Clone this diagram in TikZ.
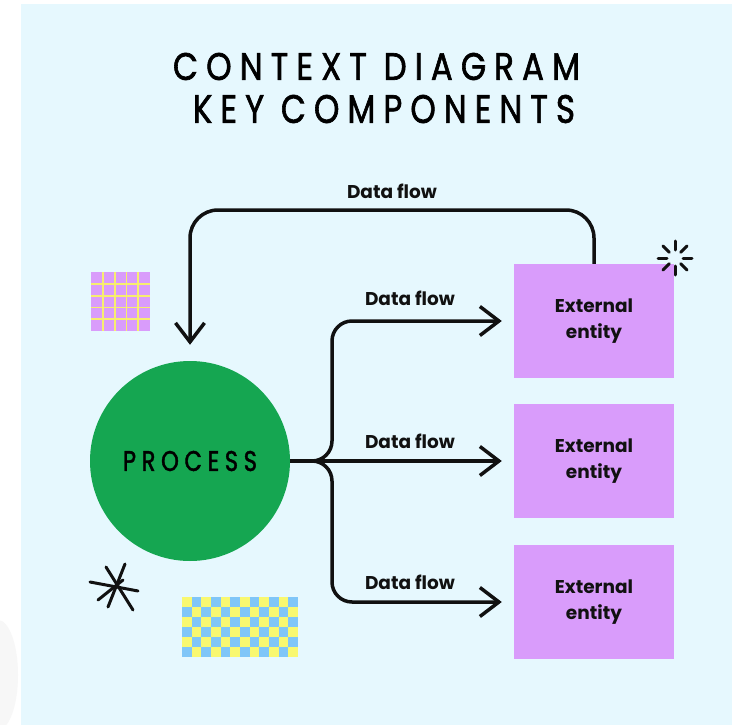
\documentclass[tikz,border=0pt]{standalone}
\usepackage{fontspec}
\usepackage{graphicx}
\usetikzlibrary{arrows.meta,calc}
\setmainfont{Poppins}
\newfontfamily\titlef{Poppins}[LetterSpace=25, FakeBold=1.8]
\definecolor{bgc}{HTML}{E6F8FE}
\definecolor{purp}{HTML}{D99CFB}
\definecolor{procg}{HTML}{15A651}
\definecolor{gyel}{HTML}{F7EE6E}
\definecolor{cyel}{HTML}{F9F870}
\definecolor{cblu}{HTML}{80C6F8}
\definecolor{ink}{HTML}{111111}
\tikzset{
  ebox/.style={fill=purp, minimum width=160pt, minimum height=114pt, inner sep=0pt,
    align=center, font=\bfseries\fontsize{18.5}{26}\selectfont, text=ink},
  lab/.style={font=\bfseries\fontsize{18.5}{22}\selectfont, text=ink, inner sep=0pt},
  flow/.style={draw=ink, line width=3.5pt, -{Straight Barb[length=19pt,width=29pt]}},
  deco/.style={draw=ink, line width=3pt, line cap=round}
}
\begin{document}
\begin{tikzpicture}[x=1pt,y=-1pt]
\useasboundingbox (0,0) rectangle (732,725);
\fill[white] (0,0) rectangle (732,725);
\fill[gray!6] (-2,675) ellipse (20 and 55);
\fill[bgc] (21,4) rectangle (732,725);

% title
\node[inner sep=0pt] (t1) at (376.5,66.5) {\resizebox{407pt}{27pt}{\titlef CONTEXT DIAGRAM}};
\node[inner sep=0pt] (t2) at (384,109) {\resizebox{382pt}{28pt}{\titlef KEY COMPONENTS}};

% grid decoration
\fill[purp] (91,272) rectangle (150,331);
\foreach \k in {1,...,4}{
  \fill[gyel] ({91+11.8*\k-0.9},272) rectangle ({91+11.8*\k+0.9},331);
  \fill[gyel] (91,{272+11.8*\k-0.9}) rectangle (150,{272+11.8*\k+0.9});
}

% checkerboard
\foreach \i in {0,...,11}{
  \foreach \j in {0,...,5}{
    \pgfmathtruncatemacro{\pr}{mod(\i+\j,2)}
    \ifnum\pr=0
      \fill[cyel] ({182+9.67*\i},{597+10*\j}) rectangle ({182+9.67*(\i+1)},{597+10*(\j+1)});
    \else
      \fill[cblu] ({182+9.67*\i},{597+10*\j}) rectangle ({182+9.67*(\i+1)},{597+10*(\j+1)});
    \fi
  }
}

% asterisk
\draw[deco] (106,567) -- (133,610);
\draw[deco] (125,564) -- (108,607);
\draw[deco] (90,582) -- (138,591);
\draw[deco] (98,600) -- (123,580);

% process
\node[circle, fill=procg, minimum size=200pt, inner sep=0pt] (proc) at (190,461)
  {\resizebox{134pt}{20pt}{\titlef PROCESS}};

% entities
\node[ebox] (e1) at (594,321) {External\\entity};
\node[ebox] (e2) at (594,461) {External\\entity};
\node[ebox] (e3) at (594,602) {External\\entity};

% sparkle
\foreach \a in {0,45,...,315}{
  \draw[draw=ink, line width=3pt, line cap=round]
    ($(675,258)+(\a:8)$) -- ($(675,258)+(\a:17)$);
}

% connectors
\coordinate (split) at (332,461);
\draw[flow, rounded corners=20pt] (proc.east) -- (split) |- ([xshift=-12pt]e1.west);
\draw[flow] (proc.east) -- ([xshift=-12pt]e2.west);
\draw[flow, rounded corners=20pt] (proc.east) -- (split) |- ([xshift=-12pt]e3.west);
\draw[flow, rounded corners=28pt] (e1.north) -- (e1.north |- 0,210) -| ([yshift=16pt]proc.north);

% labels
\node[lab] (l0) at (392,191) {Data flow};
\node[lab] (l1) at (410,298) {Data flow};
\node[lab] (l2) at (410,441) {Data flow};
\node[lab] (l3) at (410,582) {Data flow};
\end{tikzpicture}
\end{document}
